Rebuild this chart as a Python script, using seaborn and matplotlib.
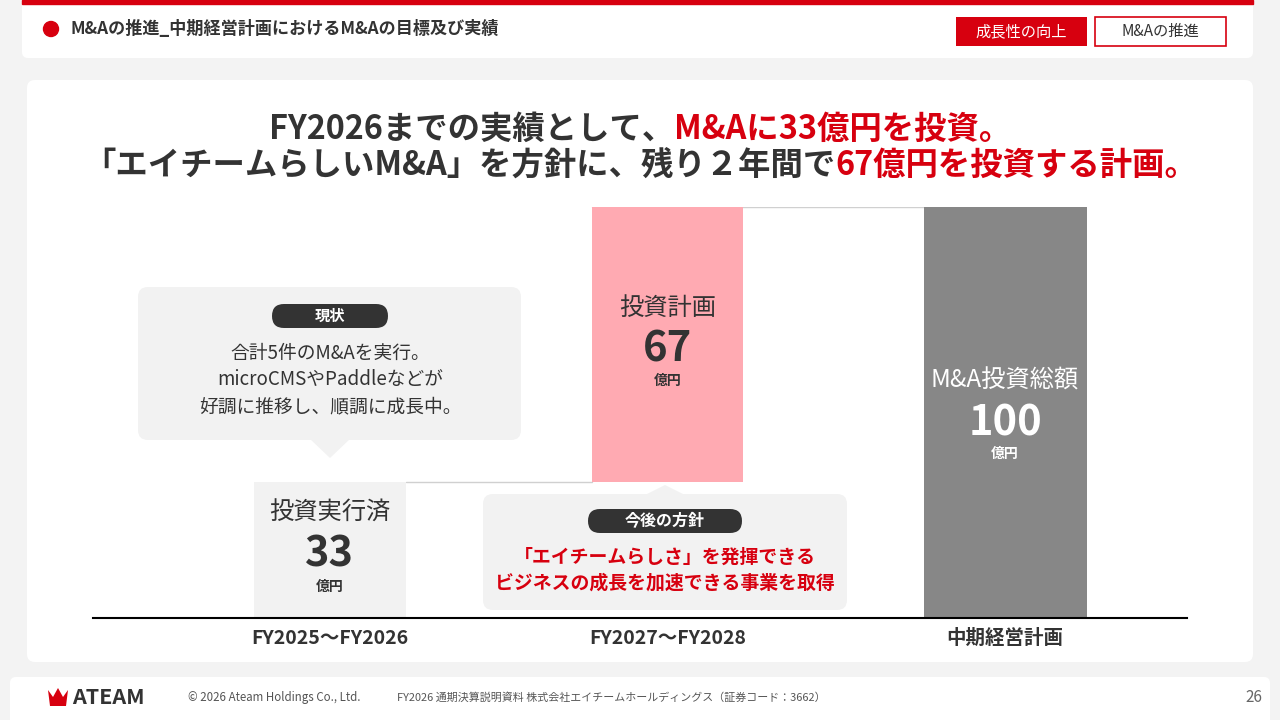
import numpy as np
import pandas as pd
import matplotlib
matplotlib.use('Agg')
import matplotlib.pyplot as plt
import seaborn as sns
from matplotlib.patches import FancyBboxPatch, Polygon, Rectangle, Circle

# --- data ---
periods = ['FY2025～FY2026', 'FY2027～FY2028', '中期経営計画']
amounts = [33, 67, 100]          # 億円
bottoms = [0, 33, 0]             # waterfall offsets
bar_titles = ['投資実行済', '投資計画', 'M&A投資総額']
bar_colors = ['#f2f2f2', '#ffaab2', '#878787']
unit = '億円'

header = 'M&Aの推進_中期経営計画におけるM&Aの目標及び実績'
tags = ['成長性の向上', 'M&Aの推進']
title1 = [('FY2026までの実績として、', 'dark'), ('M&Aに33億円を投資。', 'red')]
title2 = [('「エイチームらしいM&A」を方針に、残り２年間で', 'dark'), ('67億円を投資する計画。', 'red')]
now_lines = ['合計5件のM&Aを実行。', 'microCMSやPaddleなどが', '好調に推移し、順調に成長中。']
plan_lines = ['「エイチームらしさ」を発揮できる', 'ビジネスの成長を加速できる事業を取得']

sns.set_theme(style='white')
plt.rcParams['font.family'] = ['Noto Sans CJK JP', 'DejaVu Sans']

DARK = '#333333'
RED = '#d7000f'
col = {'dark': DARK, 'red': RED}

fig = plt.figure(figsize=(12.8, 7.2), dpi=100, facecolor='#f3f3f3')
bg = fig.add_axes([0, 0, 1, 1], zorder=0)
bg.set_xlim(0, 1280)
bg.set_ylim(720, 0)
bg.axis('off')


def rbox(x0, y0, x1, y1, fc, r=6, ec='none', lw=0, z=1):
    bg.add_patch(FancyBboxPatch((x0, y0), x1 - x0, y1 - y0,
                                boxstyle=f'round,pad=0,rounding_size={r}',
                                fc=fc, ec=ec, lw=lw, zorder=z))


# header card
rbox(22, -10, 1253, 58, 'white', r=6)
bg.add_patch(Rectangle((22, 0), 1231, 3.5, color=RED, zorder=2))
bg.add_patch(Circle((51, 29), 7.5, color=RED, zorder=2))
bg.text(70, 29, header, fontsize=12.3, weight='bold', color=DARK, va='center')
bg.add_patch(Rectangle((956, 17), 131, 29, fc=RED, ec='none', zorder=2))
bg.text(1021.5, 31.5, tags[0], fontsize=11, color='white', ha='center', va='center', zorder=3)
bg.add_patch(Rectangle((1095, 17), 131, 29, fc='white', ec=RED, lw=1.2, zorder=2))
bg.text(1160.5, 31.5, tags[1], fontsize=11, color=DARK, ha='center', va='center', zorder=3)

# main card
rbox(27, 80, 1253, 662, 'white', r=8)

# two-colour title
renderer = fig.canvas.get_renderer()


def colored_line(parts, y, size=23.3):
    texts = [bg.text(0, y, s, color=col[c], fontsize=size, weight='bold', va='center', zorder=3)
             for s, c in parts]
    widths = [t.get_window_extent(renderer).width for t in texts]
    x = 640 - sum(widths) / 2
    for t, w in zip(texts, widths):
        t.set_x(x)
        x += w


colored_line(title1, 129)
colored_line(title2, 165)

# callout: 現状
rbox(138, 287, 521, 440, '#f2f2f2', r=10, z=2)
bg.add_patch(Polygon([(310, 439), (350, 439), (330, 458)], closed=True, fc='#f2f2f2', ec='none', zorder=2))
rbox(272, 304, 388, 328, DARK, r=12, z=3)
bg.text(330, 316, '現状', fontsize=11, weight='bold', color='white', ha='center', va='center', zorder=4)
for i, s in enumerate(now_lines):
    bg.text(330, 353 + 27 * i, s, fontsize=13.5, color=DARK, ha='center', va='center', zorder=4)

# callout: 今後の方針
rbox(483, 494, 847, 610, '#f2f2f2', r=10, z=2)
bg.add_patch(Polygon([(645, 495), (685, 495), (665, 485)], closed=True, fc='#f2f2f2', ec='none', zorder=2))
rbox(588, 509, 742, 533, DARK, r=12, z=3)
bg.text(665, 521, '今後の方針', fontsize=11.5, weight='bold', color='white', ha='center', va='center', zorder=4)
for i, s in enumerate(plan_lines):
    bg.text(665, 557 + 26 * i, s, fontsize=13.6, weight='bold', color=RED, ha='center', va='center', zorder=4)

# footer
rbox(10, 677, 1270, 740, 'white', r=6)
bg.add_patch(Polygon([(48, 690), (53, 697), (58, 688), (63, 697), (68, 690), (66, 706), (50, 706)],
                     closed=True, fc=RED, ec='none', zorder=2))
bg.text(72, 697, 'ATEAM', fontsize=15.5, weight='bold', color=DARK, va='center', zorder=3)
bg.text(188, 698, '© 2026 Ateam Holdings Co., Ltd.', fontsize=8.3, color='#555555', va='center')
bg.text(397, 698, 'FY2026 通期決算説明資料 株式会社エイチームホールディングス（証券コード：3662）',
        fontsize=7.9, color='#555555', va='center')
bg.text(1262, 698, '26', fontsize=11, color='#666666', ha='right', va='center')

# --- chart ---
ax = fig.add_axes([93 / 1280, (720 - 618) / 720, (1187 - 93) / 1280, 411 / 720], zorder=2)
ax.patch.set_alpha(0)
df = pd.DataFrame({'period': periods, 'amount': amounts})
sns.barplot(data=df, x='period', y='amount', hue='period', palette=bar_colors,
            saturation=1, width=0.45, errorbar=None, legend=False, ax=ax)

bars = sorted(ax.patches, key=lambda p: p.get_x())
for p, b in zip(bars, bottoms):
    p.set_y(b)
    p.set_edgecolor('none')
    p.set_linewidth(0)
w3 = 0.483
bars[2].set_x(2 - w3 / 2)
bars[2].set_width(w3)

# connectors
ax.plot([0.225, 0.775], [amounts[0]] * 2, color='#d0d0d0', lw=1, zorder=0.5)
ax.plot([0.775, 2 - w3 / 2], [amounts[2]] * 2, color='#d0d0d0', lw=1, zorder=0.5)

ax.set_xlim(-0.702, 2.539)
ax.set_ylim(0, 100)
sns.despine(ax=ax, left=True)
ax.spines['bottom'].set_color('black')
ax.spines['bottom'].set_linewidth(1.5)
ax.set_yticks([])
ax.set_xlabel('')
ax.set_ylabel('')
ax.tick_params(axis='x', length=0, pad=8, labelsize=14, labelcolor=DARK)
for lbl in ax.get_xticklabels():
    lbl.set_fontweight('bold')

# bar labels
label_y = [(25.5, 15.4, 7.5), (75.4, 65.4, 57.7), (57.7, 47.4, 39.9)]
label_c = [DARK, DARK, 'white']
for i in range(3):
    ty, ny, uy = label_y[i]
    ax.text(i, ty, bar_titles[i], fontsize=17.5, color=label_c[i], ha='center', va='center', clip_on=False)
    ax.text(i, ny, str(amounts[i]), fontsize=30, weight='bold', color=label_c[i], ha='center', va='center', clip_on=False)
    ax.text(i, uy, unit, fontsize=10, weight='bold', color=label_c[i], ha='center', va='center', clip_on=False)

fig.savefig('out.png', dpi=100, facecolor=fig.get_facecolor())
